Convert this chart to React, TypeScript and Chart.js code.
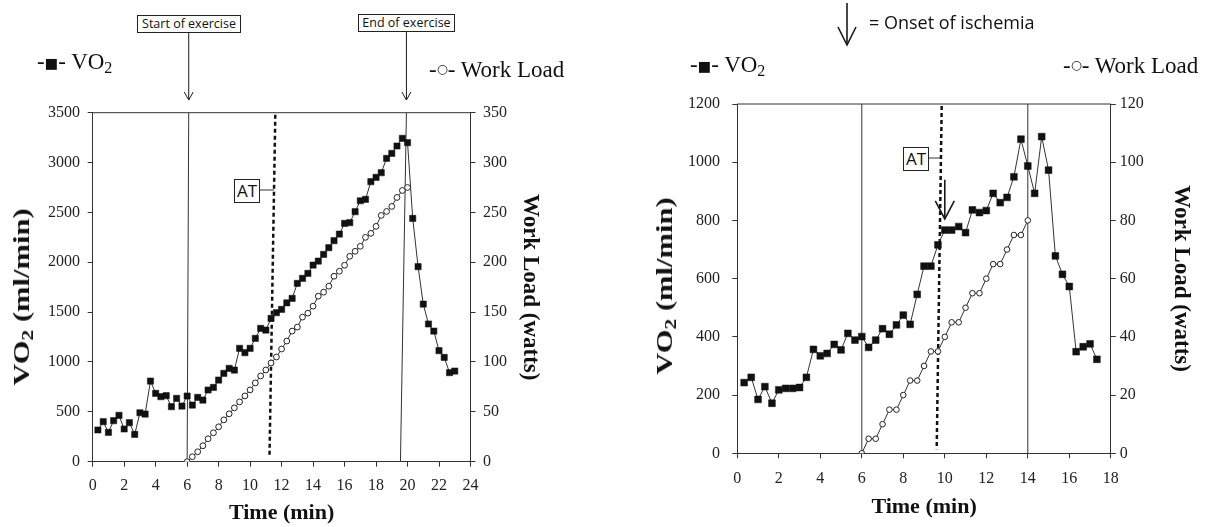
import React, { useEffect, useRef } from 'react';
import { Chart, registerables } from 'chart.js';
Chart.register(...registerables);

const SERIF = "'Liberation Serif', 'Times New Roman', serif";
const SANS = "'Open Sans', 'Liberation Sans', sans-serif";

// ---------- Left panel data ----------
const leftVO2Time = [0.33, 0.67, 1, 1.33, 1.67, 2, 2.33, 2.67, 3, 3.33, 3.67, 4, 4.33, 4.67, 5, 5.33, 5.67, 6, 6.33, 6.67, 7, 7.33, 7.67, 8, 8.33, 8.67, 9, 9.33, 9.67, 10, 10.33, 10.67, 11, 11.33, 11.67, 12, 12.33, 12.67, 13, 13.33, 13.67, 14, 14.33, 14.67, 15, 15.33, 15.67, 16, 16.33, 16.67, 17, 17.33, 17.67, 18, 18.33, 18.67, 19, 19.33, 19.67, 20, 20.33, 20.67, 21, 21.33, 21.67, 22, 22.33, 22.67, 23];
const leftVO2 = [318, 401, 294, 411, 465, 328, 391, 274, 491, 478, 809, 685, 652, 662, 552, 635, 558, 659, 568, 645, 618, 719, 745, 819, 886, 936, 919, 1137, 1093, 1137, 1237, 1337, 1320, 1437, 1494, 1528, 1593, 1638, 1788, 1839, 1889, 1972, 2012, 2079, 2146, 2216, 2283, 2390, 2397, 2507, 2617, 2631, 2808, 2852, 2898, 3042, 3092, 3166, 3243, 3199, 2440, 1956, 1581, 1381, 1310, 1113, 1046, 893, 909];
const leftWLTime = [6, 6.33, 6.67, 7, 7.33, 7.67, 8, 8.33, 8.67, 9, 9.33, 9.67, 10, 10.33, 10.67, 11, 11.33, 11.67, 12, 12.33, 12.67, 13, 13.33, 13.67, 14, 14.33, 14.67, 15, 15.33, 15.67, 16, 16.33, 16.67, 17, 17.33, 17.67, 18, 18.33, 18.67, 19, 19.33, 19.67, 20];
const leftWL = [0, 5, 10, 16, 23, 29, 35, 42, 48, 54, 60, 66, 72, 79, 86, 92, 99, 105, 113, 121, 131, 135, 145, 149, 156, 166, 170, 176, 186, 191, 197, 206, 211, 216, 225, 229, 236, 247, 251, 256, 265, 272, 275];
const leftXTicks = { min: 0, max: 24, step: 2 };
const leftYTicks = { min: 0, max: 3500, step: 500 };
const leftY2Ticks = { min: 0, max: 350, step: 50 };
// marker lines (time at top, time at bottom)
const leftStartLine = [6.1, 6.0];
const leftEndLine = [19.93, 19.55];
const leftATLine = [11.6, 11.23];

// ---------- Right panel data ----------
const rightVO2Time = [0.33, 0.67, 1, 1.33, 1.67, 2, 2.33, 2.67, 3, 3.33, 3.67, 4, 4.33, 4.67, 5, 5.33, 5.67, 6, 6.33, 6.67, 7, 7.33, 7.67, 8, 8.33, 8.67, 9, 9.33, 9.67, 10, 10.33, 10.67, 11, 11.33, 11.67, 12, 12.33, 12.67, 13, 13.33, 13.67, 14, 14.33, 14.67, 15, 15.33, 15.67, 16, 16.33, 16.67, 17, 17.33];
const rightVO2 = [243, 261, 185, 229, 172, 218, 223, 223, 226, 261, 357, 335, 343, 374, 355, 412, 389, 401, 364, 389, 428, 409, 441, 475, 443, 546, 643, 643, 716, 767, 767, 779, 758, 836, 827, 834, 893, 861, 879, 950, 1079, 987, 893, 1088, 973, 678, 615, 573, 349, 366, 376, 323];
const rightWLTime = [6, 6.33, 6.67, 7, 7.33, 7.67, 8, 8.33, 8.67, 9, 9.33, 9.67, 10, 10.33, 10.67, 11, 11.33, 11.67, 12, 12.33, 12.67, 13, 13.33, 13.67, 14];
const rightWL = [0, 5, 5, 10, 15, 15, 20, 25, 25, 30, 35, 35, 40, 45, 45, 50, 55, 55, 60, 65, 65, 70, 75, 75, 80];
const rightXTicks = { min: 0, max: 18, step: 2 };
const rightYTicks = { min: 0, max: 1200, step: 200 };
const rightY2Ticks = { min: 0, max: 120, step: 20 };
const rightSolidLines = [6, 14];
const rightATLine = [9.85, 9.61];
const ischemiaArrow = { t: 10, from: 940, to: 805 };

const INK = '#1a1a1a';

function drawArrow(ctx: CanvasRenderingContext2D, x: number, y0: number, y1: number, hw: number, hh: number, lw: number) {
  ctx.save();
  ctx.strokeStyle = INK;
  ctx.lineWidth = lw;
  ctx.setLineDash([]);
  ctx.beginPath();
  ctx.moveTo(x, y0);
  ctx.lineTo(x, y1);
  ctx.stroke();
  ctx.beginPath();
  ctx.moveTo(x - hw, y1 - hh);
  ctx.lineTo(x, y1);
  ctx.lineTo(x + hw, y1 - hh);
  ctx.stroke();
  ctx.restore();
}

function seg(ctx: CanvasRenderingContext2D, x0: number, y0: number, x1: number, y1: number) {
  ctx.beginPath();
  ctx.moveTo(x0, y0);
  ctx.lineTo(x1, y1);
  ctx.stroke();
}

function interpX(xt: number, yt: number, xb: number, yb: number, y: number) {
  return xt + (xb - xt) * (y - yt) / (yb - yt);
}

const tickFont = { family: 'Liberation Serif', size: 16 };
const titleFont = (size: number) => ({ family: 'Liberation Serif', size, weight: 'bold' as const });
const plainLabel = (v: any) => String(v);

function makeScales(opts: any) {
  const gridBase = { drawOnChartArea: false, drawTicks: true, tickLength: 5, color: '#333', lineWidth: 1 };
  return {
    x: {
      type: 'linear', min: opts.xt.min, max: opts.xt.max,
      ticks: { stepSize: opts.xt.step, font: tickFont, color: '#222', padding: opts.xPad, maxRotation: 0, autoSkip: false, callback: plainLabel },
      grid: gridBase, border: { display: true, color: '#333', width: 1 },
      title: { display: true, text: 'Time (min)', font: titleFont(22), color: '#111', padding: { top: 0, bottom: opts.xTitlePad } },
      afterFit: (s: any) => { s.height = opts.xHeight; },
    },
    y: {
      type: 'linear', position: 'left', min: opts.yt.min, max: opts.yt.max,
      ticks: { stepSize: opts.yt.step, font: tickFont, color: '#222', padding: opts.yPad, callback: plainLabel },
      grid: gridBase, border: { display: true, color: '#333', width: 1 },
      afterFit: (s: any) => { s.width = opts.yWidth; },
    },
    y2: {
      type: 'linear', position: 'right', min: opts.y2t.min, max: opts.y2t.max,
      ticks: { stepSize: opts.y2t.step, font: tickFont, color: '#222', padding: opts.y2Pad, callback: plainLabel },
      grid: gridBase, border: { display: true, color: '#333', width: 1 },
      title: { display: true, text: 'Work Load (watts)', font: titleFont(23), color: '#111', padding: { top: opts.y2TitlePad, bottom: 0 } },
      afterFit: (s: any) => { s.width = opts.y2Width; },
    },
  };
}

function makeDatasets(vT: number[], v: number[], wT: number[], w: number[], sq: number, circ: number) {
  return [
    {
      label: 'VO2', yAxisID: 'y',
      data: vT.map((t, i) => ({ x: t, y: v[i] })),
      borderColor: '#333', borderWidth: 1, tension: 0,
      pointStyle: 'rect', pointRadius: sq, pointBackgroundColor: '#111', pointBorderColor: '#111', pointBorderWidth: 0.5,
    },
    {
      label: 'Work Load', yAxisID: 'y2',
      data: wT.map((t, i) => ({ x: t, y: w[i] })),
      borderColor: '#333', borderWidth: 1, tension: 0,
      pointStyle: 'circle', pointRadius: circ, pointBackgroundColor: '#fff', pointBorderColor: '#222', pointBorderWidth: 1,
    },
  ];
}

const leftPlugin = {
  id: 'leftDecor',
  beforeDatasetsDraw(chart: any) {
    const { ctx, chartArea: a, scales } = chart;
    const x = scales.x, y = scales.y;
    ctx.save();
    ctx.strokeStyle = '#333';
    ctx.lineWidth = 1;
    seg(ctx, a.left, a.top, a.right, a.top);
    seg(ctx, x.getPixelForValue(leftStartLine[0]), y.getPixelForValue(leftYTicks.max), x.getPixelForValue(leftStartLine[1]), y.getPixelForValue(0));
    seg(ctx, x.getPixelForValue(leftEndLine[0]), y.getPixelForValue(leftYTicks.max), x.getPixelForValue(leftEndLine[1]), y.getPixelForValue(0));
    ctx.strokeStyle = '#111';
    ctx.lineWidth = 2.5;
    ctx.setLineDash([4, 3]);
    const xt = x.getPixelForValue(leftATLine[0]), xb = x.getPixelForValue(leftATLine[1]);
    seg(ctx, xt, a.top + 2, xb, a.bottom - 4);
    ctx.setLineDash([]);
    ctx.lineWidth = 1;
    ctx.strokeStyle = '#333';
    const cy = 190;
    seg(ctx, 260, cy, interpX(xt, a.top, xb, a.bottom, cy), cy);
    ctx.restore();
  },
  afterDraw(chart: any) {
    const { ctx, scales } = chart;
    const x = scales.x;
    drawArrow(ctx, x.getPixelForValue(leftStartLine[0]), 33, 100, 4.5, 8, 1);
    drawArrow(ctx, x.getPixelForValue(leftEndLine[0]), 32, 100, 4.5, 8, 1);
  },
};

const rightPlugin = {
  id: 'rightDecor',
  beforeDatasetsDraw(chart: any) {
    const { ctx, chartArea: a, scales } = chart;
    const x = scales.x;
    ctx.save();
    ctx.strokeStyle = '#333';
    ctx.lineWidth = 1;
    seg(ctx, a.left, a.top, a.right, a.top);
    rightSolidLines.forEach((t) => {
      const px = x.getPixelForValue(t);
      seg(ctx, px, a.top, px, a.bottom);
    });
    ctx.strokeStyle = '#111';
    ctx.lineWidth = 2.5;
    ctx.setLineDash([4, 3]);
    const xt = x.getPixelForValue(rightATLine[0]), xb = x.getPixelForValue(rightATLine[1]);
    seg(ctx, xt, a.top + 2, xb, a.bottom - 4);
    ctx.setLineDash([]);
    ctx.lineWidth = 1;
    ctx.strokeStyle = '#333';
    const cy = 158;
    seg(ctx, 322.3, cy, interpX(xt, a.top, xb, a.bottom, cy), cy);
    ctx.restore();
  },
  afterDraw(chart: any) {
    const { ctx, scales } = chart;
    const x = scales.x, y = scales.y;
    drawArrow(ctx, x.getPixelForValue(ischemiaArrow.t), y.getPixelForValue(ischemiaArrow.from), y.getPixelForValue(ischemiaArrow.to), 9.5, 18, 1.6);
    drawArrow(ctx, 241, 3, 45, 9, 18, 1.6);
  },
};

const boxStyle = (left: number, top: number, w: number, h: number, size: number): React.CSSProperties => ({
  position: 'absolute', left, top, width: w, height: h, boxSizing: 'border-box',
  border: '1px solid #222', background: '#fff', fontFamily: SANS, fontSize: size,
  lineHeight: `${h - 2}px`, textAlign: 'center', color: '#111', whiteSpace: 'nowrap',
});

const legendStyle = (left: number, top: number): React.CSSProperties => ({
  position: 'absolute', left, top, fontFamily: SERIF, fontSize: 23, lineHeight: '24px', color: '#111', whiteSpace: 'nowrap',
});

const vTitleStyle = (cx: number, cy: number): React.CSSProperties => ({
  position: 'absolute', left: cx, top: cy, fontFamily: SERIF, fontSize: 23, fontWeight: 'bold', color: '#111',
  whiteSpace: 'nowrap', lineHeight: '26px', transform: 'translate(-50%, -50%) rotate(-90deg) scaleX(1.33)',
});

function VO2Legend({ left, top }: { left: number; top: number }) {
  return (
    <div style={legendStyle(left, top)}>
      -<span style={{ fontFamily: 'DejaVu Sans', fontSize: '0.62em', verticalAlign: '0.05em' }}>■</span>- VO<sub style={{ fontSize: '0.7em', verticalAlign: '-0.25em' }}>2</sub>
    </div>
  );
}

function WLLegend({ left, top }: { left: number; top: number }) {
  return (
    <div style={legendStyle(left, top)}>
      -<span style={{ fontFamily: 'DejaVu Sans', fontSize: '0.55em', verticalAlign: '0.28em' }}>○</span>- Work Load
    </div>
  );
}

export default function App() {
  const leftRef = useRef<HTMLCanvasElement>(null);
  const rightRef = useRef<HTMLCanvasElement>(null);

  useEffect(() => {
    const c1 = new Chart(leftRef.current as HTMLCanvasElement, {
      type: 'line',
      data: { datasets: makeDatasets(leftVO2Time, leftVO2, leftWLTime, leftWL, 4.4, 2.9) as any },
      options: {
        responsive: false, animation: false,
        layout: { padding: { top: 112.7, left: 0, right: 0, bottom: 0 } },
        plugins: { legend: { display: false }, tooltip: { enabled: false } },
        scales: makeScales({
          xt: leftXTicks, yt: leftYTicks, y2t: leftY2Ticks,
          xPad: 9.5, xTitlePad: 0, xHeight: 65.3,
          yPad: 7.7, yWidth: 92.7,
          y2Pad: 7.5, y2Width: 135.5, y2TitlePad: 62.2,
        }) as any,
      },
      plugins: [leftPlugin],
    });
    const c2 = new Chart(rightRef.current as HTMLCanvasElement, {
      type: 'line',
      data: { datasets: makeDatasets(rightVO2Time, rightVO2, rightWLTime, rightWL, 4.8, 2.8) as any },
      options: {
        responsive: false, animation: false,
        layout: { padding: { top: 104, left: 0, right: 0, bottom: 0 } },
        plugins: { legend: { display: false }, tooltip: { enabled: false } },
        scales: makeScales({
          xt: rightXTicks, yt: rightYTicks, y2t: rightY2Ticks,
          xPad: 11, xTitlePad: 6.8, xHeight: 73.7,
          yPad: 12.3, yWidth: 131.3,
          y2Pad: 4, y2Width: 102.2, y2TitlePad: 18.2,
        }) as any,
      },
      plugins: [rightPlugin],
    });
    return () => {
      c1.destroy();
      c2.destroy();
    };
  }, []);

  return (
    <div style={{ position: 'absolute', left: 0, top: 0, width: 1213, height: 527, background: '#fff', overflow: 'hidden' }}>
      <canvas ref={leftRef} width={606} height={527} style={{ position: 'absolute', left: 0, top: 0, width: 606, height: 527 }} />
      <canvas ref={rightRef} width={607} height={527} style={{ position: 'absolute', left: 606, top: 0, width: 607, height: 527 }} />

      {/* left panel annotations */}
      <div style={boxStyle(137, 15, 104, 18, 12.5)}>Start of exercise</div>
      <div style={boxStyle(358, 14, 97, 18, 12.5)}>End of exercise</div>
      <div style={boxStyle(234, 179, 26, 24, 17)}>AT</div>
      <VO2Legend left={37} top={50} />
      <WLLegend left={429} top={57} />
      <div style={vTitleStyle(25, 297)}>VO<sub style={{ fontSize: '0.7em', verticalAlign: '-0.25em' }}>2</sub> (ml/min)</div>

      {/* right panel annotations */}
      <div style={{ position: 'absolute', left: 869, top: 12, fontFamily: SANS, fontSize: 18, lineHeight: '20px', color: '#111', whiteSpace: 'nowrap' }}>= Onset of ischemia</div>
      <div style={boxStyle(903, 147, 26, 24, 17)}>AT</div>
      <VO2Legend left={690} top={53} />
      <WLLegend left={1063} top={53} />
      <div style={vTitleStyle(668, 286)}>VO<sub style={{ fontSize: '0.7em', verticalAlign: '-0.25em' }}>2</sub> (ml/min)</div>
    </div>
  );
}
